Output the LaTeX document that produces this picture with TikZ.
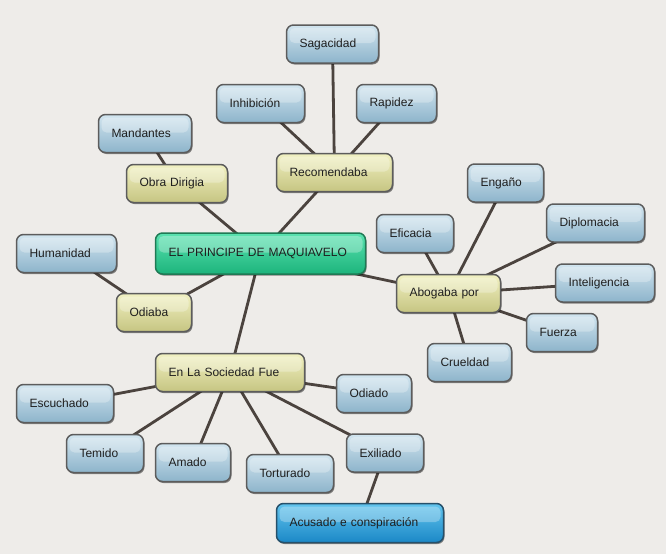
\documentclass[tikz,border=0pt]{standalone}
\usepackage{fontspec}
\setmainfont{Liberation Sans}
\usetikzlibrary{shadows,backgrounds}
\definecolor{bgc}{HTML}{EEECE9}
\definecolor{edgec}{HTML}{4B433E}
\definecolor{boxline}{HTML}{5C5C5C}
\definecolor{bluetop}{HTML}{D2E5EF}
\definecolor{bluebot}{HTML}{8DB4CB}
\definecolor{yeltop}{HTML}{F1F1C2}
\definecolor{yelbot}{HTML}{C6C582}
\definecolor{greentop}{HTML}{5AE2B0}
\definecolor{greenbot}{HTML}{1DB47C}
\definecolor{greenline}{HTML}{1F7A55}
\definecolor{dbluetop}{HTML}{62C4EE}
\definecolor{dbluebot}{HTML}{1B88C6}
\definecolor{dblueline}{HTML}{26506A}
\tikzset{
  mbox/.style={rounded corners=7pt, draw=boxline, line width=1.5pt,
    minimum height=38pt, inner xsep=13pt, inner ysep=2pt,
    text width=#1, align=left, font=\fontsize{12}{14}\selectfont,
    text=black!88,
    drop shadow={shadow xshift=1pt, shadow yshift=-1.5pt, opacity=.45, fill=black},
    path picture={\fill[white,opacity=.28,rounded corners=5pt]
      ([xshift=3pt,yshift=-3pt]path picture bounding box.north west)
      rectangle ([xshift=-3pt,yshift=1pt]path picture bounding box.east);}},
  bluebox/.style={mbox=#1, top color=bluetop, bottom color=bluebot},
  yelbox/.style={mbox=#1, top color=yeltop, bottom color=yelbot},
  greenbox/.style={mbox=#1, top color=greentop, bottom color=greenbot, draw=greenline, minimum height=41pt},
  dbluebox/.style={mbox=#1, top color=dbluetop, bottom color=dbluebot, draw=dblueline, minimum height=39pt},
  link/.style={draw=edgec, line width=2.8pt}
}
\begin{document}
\begin{tikzpicture}[x=1pt,y=-1pt]
\useasboundingbox (0,0) rectangle (666,554);
% nodes
\node[bluebox=66pt] (sag) at (332.5,44) {Sagacidad};
\node[bluebox=62pt] (inh) at (260.5,103.5) {Inhibición};
\node[bluebox=54pt] (rap) at (396.5,103.5) {Rapidez};
\node[bluebox=67pt] (man) at (145,133.5) {Mandantes};
\node[yelbox=90pt] (rec) at (334.5,172.5) {Recomendaba};
\node[yelbox=75pt] (obr) at (177,183.5) {Obra Dirigia};
\node[bluebox=50pt] (eng) at (505.5,183) {Engaño};
\node[bluebox=72pt] (dip) at (595.5,223) {Diplomacia};
\node[bluebox=51pt] (efi) at (415,233.5) {Eficacia};
\node[greenbox=184pt] (pri) at (260.5,253.5) {EL PRINCIPE DE MAQUIAVELO};
\node[bluebox=74pt] (hum) at (66.5,253.5) {Humanidad};
\node[yelbox=78pt] (abo) at (448.5,293.5) {Abogaba por};
\node[bluebox=73pt] (int) at (605,283) {Inteligencia};
\node[yelbox=49pt] (odb) at (154,312.5) {Odiaba};
\node[bluebox=45pt] (fue) at (562,332.5) {Fuerza};
\node[bluebox=58pt] (cru) at (469.5,362.5) {Crueldad};
\node[yelbox=123pt] (soc) at (230,372.5) {En La Sociedad Fue};
\node[bluebox=49pt] (odo) at (374,393.5) {Odiado};
\node[bluebox=71pt] (esc) at (65,403.5) {Escuchado};
\node[bluebox=51pt] (tem) at (105,453.5) {Temido};
\node[bluebox=49pt] (ama) at (193,462.5) {Amado};
\node[bluebox=61pt] (tor) at (290,473.5) {Torturado};
\node[bluebox=51pt] (exi) at (385,453) {Exiliado};
\node[dbluebox=141pt] (acu) at (360,523) {Acusado e conspiración};
% background and links
\begin{pgfonlayer}{background}
\fill[bgc] (0,0) rectangle (666,554);
\draw[link] (pri.center) -- (rec.center);
\draw[link] (pri.center) -- (obr.center);
\draw[link] (pri.center) -- (odb.center);
\draw[link] (pri.center) -- (soc.center);
\draw[link] (pri.center) -- (abo.center);
\draw[link] (rec.center) -- (sag.center);
\draw[link] (rec.center) -- (inh.center);
\draw[link] (rec.center) -- (rap.center);
\draw[link] (obr.center) -- (man.center);
\draw[link] (odb.center) -- (hum.center);
\draw[link] (abo.center) -- (eng.center);
\draw[link] (abo.center) -- (dip.center);
\draw[link] (abo.center) -- (efi.center);
\draw[link] (abo.center) -- (int.center);
\draw[link] (abo.center) -- (fue.center);
\draw[link] (abo.center) -- (cru.center);
\draw[link] (soc.center) -- (odo.center);
\draw[link] (soc.center) -- (esc.center);
\draw[link] (soc.center) -- (tem.center);
\draw[link] (soc.center) -- (ama.center);
\draw[link] (soc.center) -- (tor.center);
\draw[link] (soc.center) -- (exi.center);
\draw[link] (exi.center) -- (acu.center);
\end{pgfonlayer}
\end{tikzpicture}
\end{document}
